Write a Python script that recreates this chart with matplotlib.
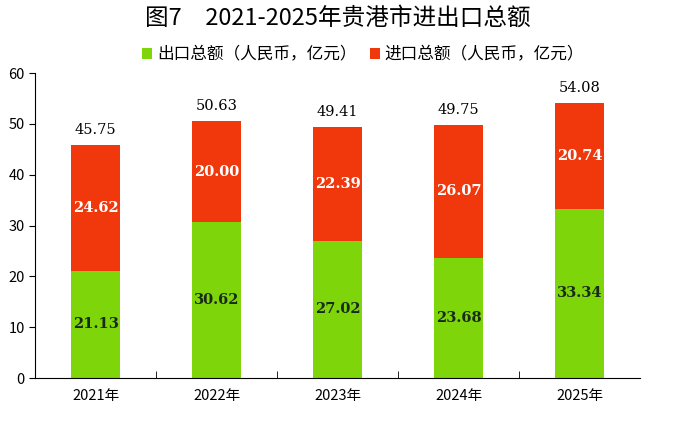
import matplotlib
matplotlib.use('Agg')
import matplotlib.pyplot as plt
import numpy as np

plt.rcParams['font.family'] = ['Noto Sans CJK SC', 'DejaVu Sans']

years = ['2021年', '2022年', '2023年', '2024年', '2025年']
export_vals = [21.13, 30.62, 27.02, 23.68, 33.34]
import_vals = [24.62, 20.00, 22.39, 26.07, 20.74]
totals = [45.75, 50.63, 49.41, 49.75, 54.08]

green = '#7ED60A'
red = '#F0380C'

fig = plt.figure(figsize=(6.76, 4.22), dpi=100)
ax = fig.add_axes([0.052, 0.104, 0.895, 0.723])

x = np.arange(len(years))
w = 0.4
b1 = ax.bar(x, export_vals, w, color=green, label='出口总额（人民币，亿元）')
b2 = ax.bar(x, import_vals, w, bottom=export_vals, color=red, label='进口总额（人民币，亿元）')

for i in range(len(years)):
    ax.text(x[i], export_vals[i] / 2, f'{export_vals[i]:.2f}', ha='center', va='center',
            fontsize=10.5, fontweight='semibold', color='#1a2a1a', family='DejaVu Serif')
    ax.text(x[i], export_vals[i] + import_vals[i] / 2, f'{import_vals[i]:.2f}', ha='center',
            va='center', fontsize=10.5, fontweight='semibold', color='white', family='DejaVu Serif')
    ax.text(x[i], totals[i] + 1.6, f'{totals[i]:.2f}', ha='center', va='bottom',
            fontsize=10.5, color='black', family='DejaVu Serif')

ax.set_xlim(-0.5, 4.5)
ax.set_ylim(0, 60)
ax.set_yticks(range(0, 61, 10))
ax.set_xticks(x)
ax.set_xticklabels(years, fontsize=10.5)
ax.tick_params(axis='x', length=0, pad=8)
ax.set_xticks(np.arange(0.5, 4.5, 1), minor=True)
ax.tick_params(axis='x', which='minor', direction='in', length=5)
ax.tick_params(axis='y', labelsize=10.5, length=4)
ax.spines['top'].set_visible(False)
ax.spines['right'].set_visible(False)

fig.suptitle('图7　2021-2025年贵港市进出口总额', fontsize=17, fontweight='medium', y=0.985)
fig.legend(handles=[b1, b2], loc='center', bbox_to_anchor=(0.537, 0.87), ncol=2,
           frameon=False, fontsize=12, handlelength=0.6, handleheight=0.6,
           handletextpad=0.3, columnspacing=0.8)

fig.savefig('out.png', dpi=100)
